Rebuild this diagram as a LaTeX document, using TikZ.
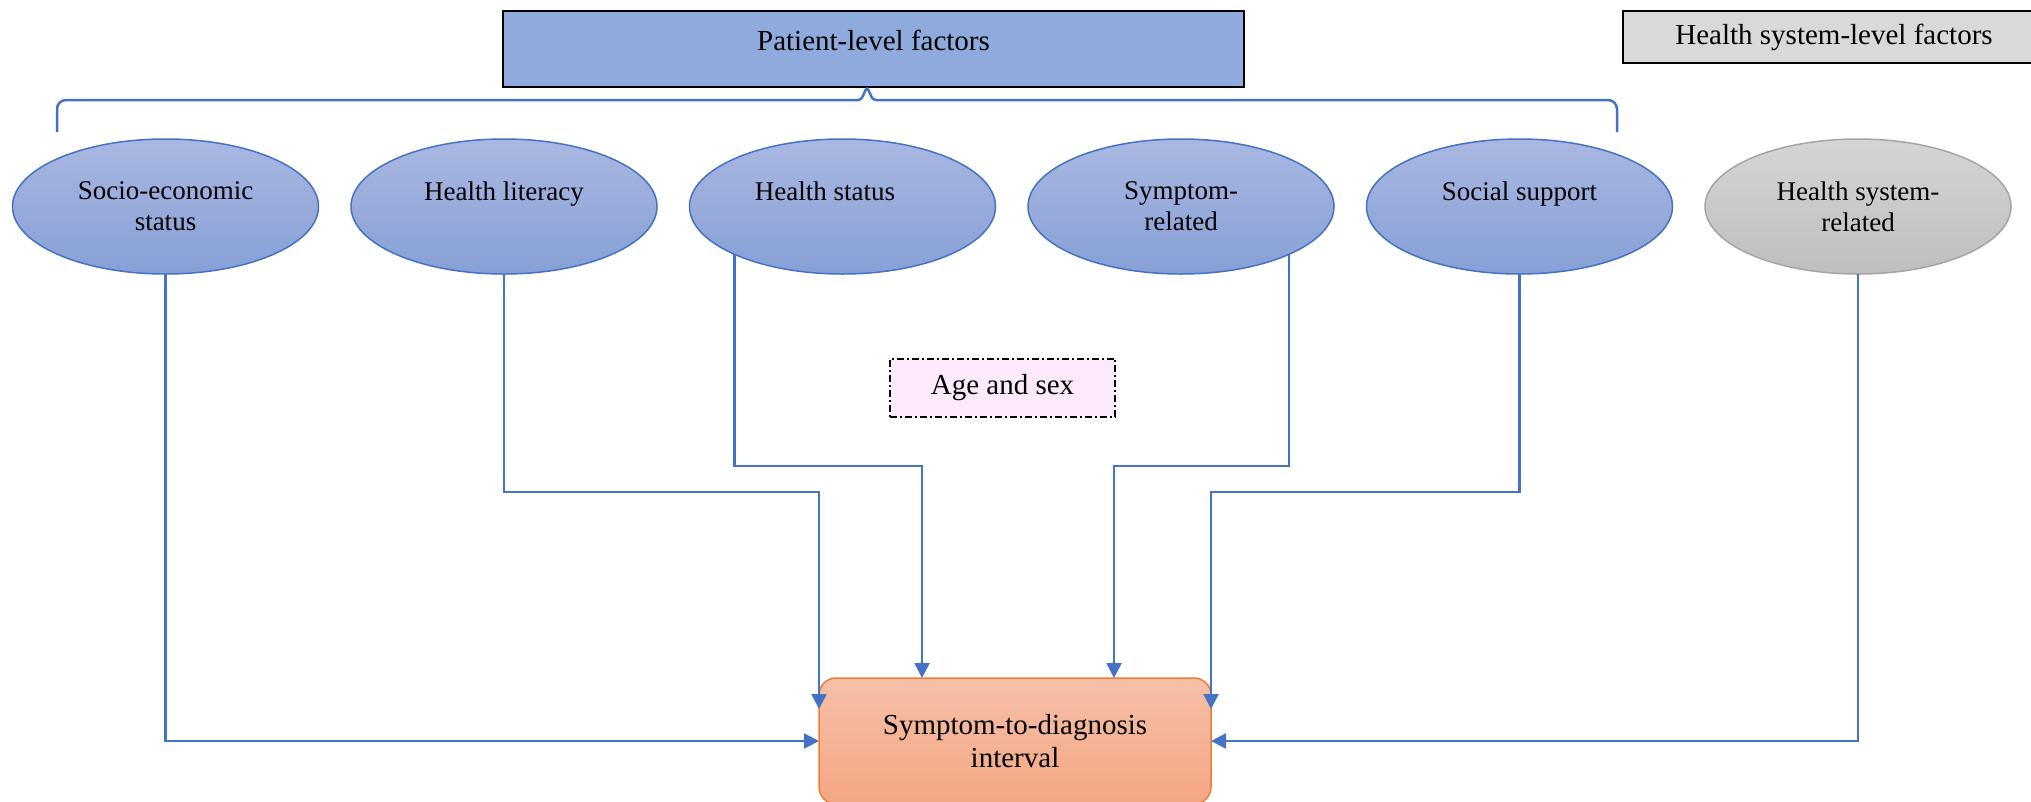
\documentclass[tikz,border=0pt]{standalone}
\usepackage{fontspec}
\setmainfont{Liberation Serif}
\usetikzlibrary{arrows.meta,shapes.geometric,calc}
\definecolor{lnblue}{RGB}{68,114,196}
\definecolor{patfill}{RGB}{143,170,220}
\definecolor{hsfill}{RGB}{217,217,217}
\definecolor{elltop}{RGB}{170,183,225}
\definecolor{ellbot}{RGB}{134,160,214}
\definecolor{greytop}{RGB}{213,213,213}
\definecolor{greybot}{RGB}{190,190,190}
\definecolor{greyline}{RGB}{165,165,165}
\definecolor{tgttop}{RGB}{246,192,168}
\definecolor{tgtbot}{RGB}{244,166,131}
\definecolor{tgtline}{RGB}{237,125,49}
\definecolor{agefill}{RGB}{252,233,252}
\begin{document}
\begin{tikzpicture}[x=1pt,y=-1pt,
  headbox/.style={draw=black,line width=2.5pt,rectangle,inner sep=0pt,outer sep=0pt,
    font=\fontsize{29}{33}\selectfont},
  factor/.style={ellipse,draw=lnblue,line width=1.5pt,top color=elltop,bottom color=ellbot,
    minimum width=306pt,minimum height=135pt,inner sep=0pt,outer sep=0pt,align=center,
    font=\fontsize{27}{31}\selectfont},
  sysfactor/.style={factor,draw=greyline,top color=greytop,bottom color=greybot},
  conn/.style={draw=lnblue,line width=2.5pt},
  arr/.style={conn,-{Triangle[length=15pt,width=15pt]}},
  brace/.style={draw=lnblue,line width=2.5pt}]
\useasboundingbox (0,0) rectangle (2031,801);

% header boxes
\node[headbox,fill=patfill,minimum width=741pt,minimum height=76pt,text depth=18pt] (plf) at (873.5,49) {Patient-level factors};
\node[headbox,fill=hsfill,minimum width=422pt,minimum height=52pt] (hsf) at (1834,37) {Health system-level factors};

% brace
\coordinate (brL) at (57,132);
\coordinate (brR) at (1617,132);
\coordinate (brT) at (867,87);
\draw[brace] (brL) [rounded corners=9pt] -- (57,100) [rounded corners=3pt] -- (861,100) -- (brT) -- (873,100) [rounded corners=9pt] -- (1617,100) -- (brR);

% factor ellipses
\node[factor] (ses) at (165.5,206.5) {Socio-economic\\status};
\node[factor] (hl)  at (504,206.5)   {Health literacy\\\mbox{}};
\node[factor] (hs)  at (842.5,206.5) {\hspace*{-35pt}Health status\\\mbox{}};
\node[factor] (sr)  at (1181,206.5)  {Symptom-\\related};
\node[factor] (ss)  at (1519.5,206.5) {Social support\\\mbox{}};
\node[sysfactor] (hsr) at (1858,206.5) {Health system-\\related};

% age and sex
\node[draw=black,line width=2pt,dash pattern=on 7pt off 3pt on 2pt off 3pt,fill=agefill,
  minimum width=225pt,minimum height=58.5pt,inner sep=0pt,
  font=\fontsize{29}{33}\selectfont] (age) at (1002.5,388) {Age and sex};

% target
\node[draw=tgtline,line width=1.5pt,rounded corners=17pt,top color=tgttop,bottom color=tgtbot,
  minimum width=392pt,minimum height=126pt,inner sep=0pt,outer sep=0pt,align=center,
  font=\fontsize{29}{33}\selectfont] (tgt) at (1015,741) {Symptom-to-diagnosis\\interval};

% connector corner points
\coordinate (hlK) at (819,492);
\coordinate (hlE) at (819,709);
\coordinate (hsK) at (922,466);
\coordinate (hsE) at (922,678);
\coordinate (srK) at (1114,466);
\coordinate (srE) at (1114,678);
\coordinate (ssK) at (1211,492);
\coordinate (ssE) at (1211,709);

\draw[arr] (ses.south) |- (tgt.west);
\draw[arr] (hl.south) |- (hlK) -- (hlE);
\draw[arr] (hs.south west) |- (hsK) -- (hsE);
\draw[arr] (sr.south east) |- (srK) -- (srE);
\draw[arr] (ss.south) |- (ssK) -- (ssE);
\draw[arr] (hsr.south) |- (tgt.east);
\end{tikzpicture}
\end{document}
